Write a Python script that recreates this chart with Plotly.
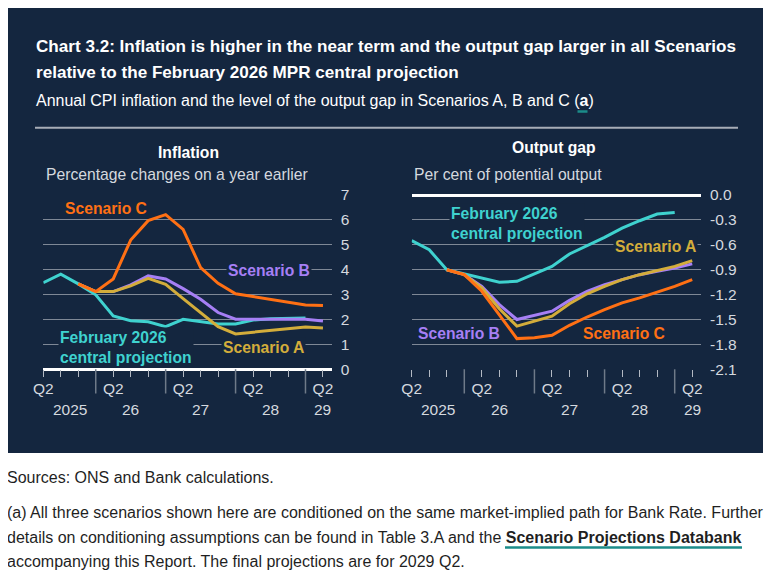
import plotly.graph_objects as go

# ---------------- data ----------------
quarters = ["2025 Q2", "2025 Q3", "2025 Q4", "2026 Q1", "2026 Q2", "2026 Q3", "2026 Q4",
            "2027 Q1", "2027 Q2", "2027 Q3", "2027 Q4", "2028 Q1", "2028 Q2", "2028 Q3",
            "2028 Q4", "2029 Q1", "2029 Q2"]

# Inflation (per cent, on a year earlier)
infl_feb = [3.48, 3.82, 3.43, 2.99, 2.14, 1.95, 1.91, 1.71, 2.01, 1.90, 1.82, 1.82, 1.98, 2.03, 2.03, 2.06, None]
infl_a = [None, None, 3.43, 3.12, 3.12, 3.35, 3.65, 3.41, 2.84, 2.28, 1.71, 1.42, 1.49, 1.55, 1.62, 1.70, 1.66]
infl_b = [None, None, 3.43, 3.12, 3.12, 3.39, 3.75, 3.63, 3.24, 2.81, 2.28, 2.01, 2.01, 2.01, 2.03, 2.01, 1.94]
infl_c = [None, None, 3.43, 3.12, 3.63, 5.19, 5.97, 6.21, 5.62, 4.08, 3.45, 3.03, 2.92, 2.81, 2.68, 2.58, 2.56]

# Output gap (per cent of potential output)
gap_feb = [-0.55, -0.66, -0.90, -0.95, -1.00, -1.05, -1.04, -0.95, -0.86, -0.71, -0.61, -0.51, -0.40, -0.31, -0.23, -0.21, None]
gap_a = [None, None, -0.90, -0.96, -1.12, -1.37, -1.58, -1.52, -1.46, -1.31, -1.19, -1.10, -1.02, -0.96, -0.91, -0.86, -0.79]
gap_b = [None, None, -0.90, -0.96, -1.10, -1.32, -1.50, -1.45, -1.40, -1.27, -1.16, -1.08, -1.02, -0.96, -0.92, -0.88, -0.83]
gap_c = [None, None, -0.90, -0.96, -1.16, -1.44, -1.73, -1.72, -1.69, -1.57, -1.47, -1.38, -1.30, -1.24, -1.17, -1.10, -1.02]

infl_ticks = [0, 1, 2, 3, 4, 5, 6, 7]
gap_ticks = [0.0, -0.3, -0.6, -0.9, -1.2, -1.5, -1.8, -2.1]

q_label_idx = [0, 4, 8, 12, 16]
q_labels = ["Q2", "Q2", "Q2", "Q2", "Q2"]
year_label_pos = [1.5, 5, 9, 13, 16]
year_labels = ["2025", "26", "27", "28", "29"]
year_sep = [3, 7, 11, 15]

# ---------------- styles ----------------
PAGE_W, PAGE_H = 772, 579
OFF = 8  # page body margin
W, H = PAGE_W - OFF, PAGE_H - OFF
BG = "#14263f"
GRID = "#7f8896"
TXT = "#d5d9df"
C_FEB = "#3fd2cf"
C_A = "#d3ad3b"
C_B = "#a67ff5"
C_C = "#ff7014"
FONT = "Liberation Sans, Arial, sans-serif"

xs = list(range(len(quarters)))


def px(x):
    return (x - OFF) / W


def py(y):
    return 1 - (y - OFF) / H


fig = go.Figure()

series = [
    ("February 2026 central projection", infl_feb, gap_feb, C_FEB),
    ("Scenario B", infl_b, gap_b, C_B),
    ("Scenario A", infl_a, gap_a, C_A),
    ("Scenario C", infl_c, gap_c, C_C),
]
for name, inf, gap, col in series:
    fig.add_trace(go.Scatter(x=xs, y=inf, mode="lines", name=name, line=dict(color=col, width=3),
                             xaxis="x", yaxis="y", showlegend=False, hoverinfo="skip"))
    fig.add_trace(go.Scatter(x=xs, y=gap, mode="lines", name=name, line=dict(color=col, width=3),
                             xaxis="x2", yaxis="y2", showlegend=False, hoverinfo="skip"))

tickvals_major = [i for i in xs if i not in year_sep]
ticktext_major = [q_labels[q_label_idx.index(i)] if i in q_label_idx else "" for i in tickvals_major]

xaxis_common = dict(
    range=[0, 16.5], showgrid=False, zeroline=False, showline=False, automargin=False,
    tickmode="array", tickvals=tickvals_major, ticktext=ticktext_major,
    ticks="outside", ticklen=7, tickwidth=1.3, tickcolor="#b3b9c3",
    tickfont=dict(family=FONT, size=15.5, color=TXT), ticklabelstandoff=-2,
    fixedrange=True,
)
yaxis_common = dict(
    side="right", showline=False, ticks="", gridcolor=GRID, gridwidth=1, automargin=False,
    zeroline=True, zerolinecolor="#ffffff", zerolinewidth=2.5,
    tickfont=dict(family=FONT, size=15.5, color=TXT), ticklabelstandoff=8,
    fixedrange=True,
)

fig.update_layout(
    width=W, height=H,
    margin=dict(l=0, r=0, t=0, b=0, pad=0, autoexpand=False),
    paper_bgcolor="white", plot_bgcolor="rgba(0,0,0,0)",
    xaxis=dict(domain=[px(43.3), px(331.7)], anchor="y", **xaxis_common),
    yaxis=dict(domain=[py(369.3), py(195)], anchor="x", range=[0, 7], tickvals=infl_ticks,
               ticktext=[str(v) for v in infl_ticks], **yaxis_common),
    xaxis2=dict(domain=[px(411.7), px(701)], anchor="y2", **xaxis_common),
    yaxis2=dict(domain=[py(369.3), py(195)], anchor="x2", range=[-2.1, 0], tickvals=gap_ticks,
                ticktext=[f"{v:.1f}" for v in gap_ticks], **yaxis_common),
    font=dict(family=FONT),
)

# dark background panel
fig.add_shape(type="rect", xref="paper", yref="paper", x0=px(5), x1=px(763), y0=py(453), y1=py(5),
              fillcolor=BG, line=dict(width=0), layer="below")
# separator
fig.add_shape(type="line", xref="paper", yref="paper", x0=px(35), x1=px(738), y0=py(127.7), y1=py(127.7),
              line=dict(color="#a7adb7", width=2))
# year separators on the quarter axes
for xa in ["x", "x2"]:
    for s in year_sep:
        fig.add_shape(type="line", xref=xa, yref="paper", x0=s, x1=s, y0=py(393.5), y1=py(369.3),
                      line=dict(color="#6f7a89", width=1.5))

ann = []


def text(x, y, s, size=15.7, color="white", bold=False, xanchor="left", bg=None):
    if bold:
        s = f"<b>{s}</b>"
    d = dict(x=px(x), y=py(y), xref="paper", yref="paper", text=s, showarrow=False,
             xanchor=xanchor, yanchor="middle", align="left",
             font=dict(family=FONT, size=size, color=color))
    if bg:
        d.update(bgcolor=bg, borderpad=1)
    ann.append(d)


text(34, 47, "Chart 3.2: Inflation is higher in the near term and the output gap larger in all Scenarios", 17.1, bold=True)
text(34, 73, "relative to the February 2026 MPR central projection", 17.1, bold=True)
text(34, 101, "Annual CPI inflation and the level of the output gap in Scenarios A, B and C (<b>a</b>)", 16)
text(188, 152.5, "Inflation", 15.7, bold=True, xanchor="center")
text(554, 148, "Output gap", 15.7, bold=True, xanchor="center")
text(44, 174, "Percentage changes on a year earlier", 15.7, color=TXT)
text(412, 174, "Per cent of potential output", 15.7, color=TXT)

# series labels
LS = 15.7
text(63, 209, "Scenario C", LS, C_C, True)
text(226, 270, "Scenario B", LS, C_B, True, bg=BG)
text(58, 347.5, "February 2026<br>central projection", LS, C_FEB, True, bg=BG)
text(221, 347, "Scenario A", LS, C_A, True, bg=BG)
text(449, 224, "February 2026<br>central projection", LS, C_FEB, True, bg=BG)
text(613, 246.5, "Scenario A", LS, C_A, True, bg=BG)
text(416, 333, "Scenario B", LS, C_B, True, bg=BG)
text(581, 333, "Scenario C", LS, C_C, True, bg=BG)

# year labels (second row of x tick labels)
for xa in ["x", "x2"]:
    for pos, lab in zip(year_label_pos, year_labels):
        ann.append(dict(x=pos, y=py(409), xref=xa, yref="paper", text=lab, showarrow=False,
                        xanchor="center", yanchor="middle", font=dict(family=FONT, size=15.5, color=TXT)))

# footer
FT = "#1f1f1f"
FS = 16
text(5, 477, "Sources: ONS and Bank calculations.", FS, FT)
text(5, 512, "(a) All three scenarios shown here are conditioned on the same market-implied path for Bank Rate. Further", FS, FT)
text(5, 537, "details on conditioning assumptions can be found in Table 3.A and the <b>Scenario Projections Databank</b>", FS, FT)
text(5, 561.5, "accompanying this Report. The final projections are for 2029 Q2.", FS, FT)

fig.add_shape(type="line", xref="paper", yref="paper", x0=px(505), x1=px(742), y0=py(547.5), y1=py(547.5),
              line=dict(color="#1b8c8a", width=2.5))
fig.add_shape(type="line", xref="paper", yref="paper", x0=px(577.5), x1=px(587.5), y0=py(111.5), y1=py(111.5),
              line=dict(color="#1b8c8a", width=2.5))

fig.update_layout(annotations=ann)
fig.write_html("out.html")
